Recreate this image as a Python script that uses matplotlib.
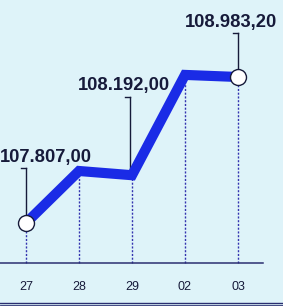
import matplotlib.pyplot as plt

# dias e valores
dias = ['27', '28', '29', '02', '03']
valores = [107807.00, 108226.00, 108192.00, 109000.00, 108983.20]
rotulos = {0: '107.807,00', 2: '108.192,00', 4: '108.983,20'}

fundo = '#def3f9'
azul = '#1a2be6'
tinta = '#161a3a'

fig = plt.figure(figsize=(2.83, 3.06), dpi=100, facecolor=fundo)
ax = fig.add_axes([0, 0, 1, 1])
ax.set_facecolor(fundo)
ax.axis('off')

xs = list(range(len(dias)))
px = 8.055  # valor por pixel
ax.set_xlim(-26 / 53, (283 - 26) / 53)
ax.set_ylim(107807 - 83 * px, 108983.2 + 77 * px)

base = 107807 - 40 * px

# linhas pontilhadas verticais
for x, v in zip(xs, valores):
    ax.plot([x, x], [base, v], color='#3434b0', lw=1.0, ls=(0, (1.5, 1.2)), zorder=1)

ax.plot(xs, valores, color=azul, lw=7.3, solid_joinstyle='miter', solid_capstyle='butt', zorder=3)
ax.plot([xs[0], xs[-1]], [valores[0], valores[-1]], 'o', ms=11.5, mfc='white',
        mec=tinta, mew=1.0, zorder=4)

# eixo e linha inferior
ax.plot([-0.5, (263 - 26) / 53], [base, base], color='#2a2e70', lw=1.1, zorder=2)
ax.axhline(107807 - 80 * px, color='#2a2e70', lw=1.0)
ax.axhline(107807 - 82 * px, color='#2a2e70', lw=0.6)

for x, d in zip(xs, dias):
    ax.text(x, 107807 - 64 * px, d, ha='center', va='center', fontsize=9,
            color=tinta, family='Liberation Sans')

# rotulos com linhas de chamada
pos = {0: (0.38, 107807 + 66 * px, 0, 107807 + 55 * px, 107807 + 7 * px),
       2: (-0.16, 108192 + 90 * px, 1.96, 108192 + 78 * px, 108192),
       4: (-0.13, 108983.2 + 54 * px, 4, 108983.2 + 44 * px, 108983.2 + 6 * px)}
for i, txt in rotulos.items():
    dx, ty, lx, y0, y1 = pos[i]
    ax.text(i + dx, ty, txt, ha='center', va='center', fontsize=13.2,
            fontweight='bold', color=tinta, family='Liberation Sans')
    ax.plot([lx, lx], [y0, y1], color=tinta, lw=1.0, zorder=2)
    ax.plot([lx - 0.1, lx], [y0, y0], color=tinta, lw=1.0, zorder=2)

fig.savefig('out.png', dpi=100, facecolor=fundo)
